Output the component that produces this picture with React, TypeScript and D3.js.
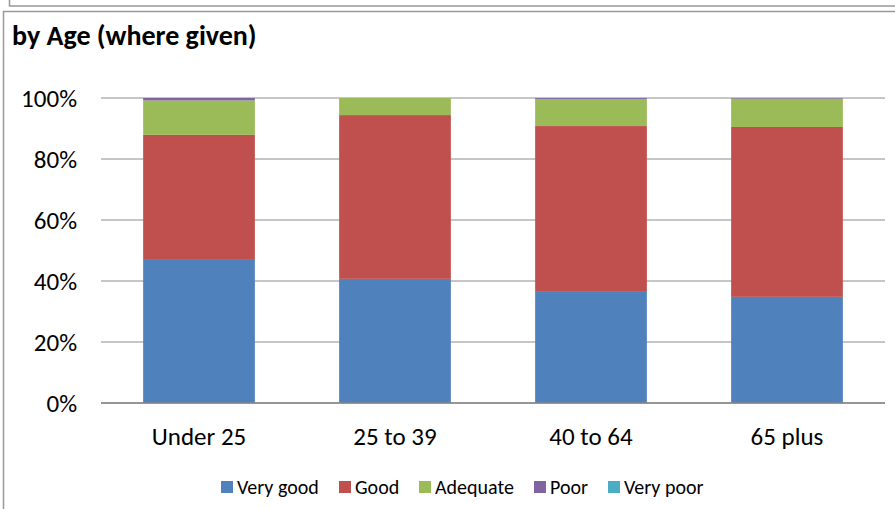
import React from "react";
import * as d3 from "d3";

const categories = ["Under 25", "25 to 39", "40 to 64", "65 plus"];
const seriesNames = ["Very good", "Good", "Adequate", "Poor", "Very poor"];
const veryGood = [47.2, 40.7, 36.7, 34.8];
const good = [40.7, 53.7, 54.1, 55.7];
const adequate = [11.3, 5.6, 8.9, 9.3];
const poor = [0.8, 0.0, 0.3, 0.2];
const veryPoor = [0.0, 0.0, 0.0, 0.0];
const yTicks = [0, 20, 40, 60, 80, 100];
const colors = ["#4f81bd", "#c0504d", "#9bbb59", "#8064a2", "#4bacc6"];

const W = 895;
const H = 509;
const font = "Carlito, Calibri, 'Open Sans', 'Liberation Sans', sans-serif";

export default function App() {
  const seriesVals = [veryGood, good, adequate, poor, veryPoor];
  const rows = categories.map((c, i) => {
    const r: any = { cat: c };
    seriesNames.forEach((s, k) => (r[s] = seriesVals[k][i]));
    return r;
  });
  const stack = d3.stack<any>().keys(seriesNames)(rows);

  const x = d3.scaleBand().domain(categories).range([101, 885]).paddingInner(0.43).paddingOuter(0.215);
  const y = d3.scaleLinear().domain([0, 100]).range([403, 98]);

  const legendX = [221, 339, 419, 534, 608];

  return (
    <svg width={W} height={H} style={{ position: "absolute", left: 0, top: 0, background: "#fff" }} fontFamily={font}>
      <rect x={9.5} y={-10} width={900} height={16} fill="none" stroke="#999" strokeWidth={1.5} />
      <rect x={3.5} y={11.5} width={900} height={510} fill="#fff" stroke="#999" strokeWidth={1.5} />
      <text x={12} y={45} fontSize={28} fontWeight="bold" fill="#000">
        by Age (where given)
      </text>
      {yTicks.map((t) => (
        <g key={t}>
          <line x1={101} x2={885} y1={y(t)} y2={y(t)} stroke="#8c8c8c" strokeWidth={1} />
          <text x={77} y={y(t)} dy="0.35em" textAnchor="end" fontSize={25} fill="#000">
            {t}%
          </text>
        </g>
      ))}
      {stack.map((s, k) => (
        <g key={s.key}>
          {s.map((d, i) =>
            d[1] - d[0] > 0 ? (
              <rect
                key={i}
                x={x(categories[i])!}
                width={x.bandwidth()}
                y={y(d[1])}
                height={y(d[0]) - y(d[1])}
                fill={colors[k]}
              />
            ) : null
          )}
        </g>
      ))}
      <line x1={101} x2={885} y1={y(0)} y2={y(0)} stroke="#868686" strokeWidth={1.5} />
      {categories.map((c) => (
        <text key={c} x={x(c)! + x.bandwidth() / 2} y={445} textAnchor="middle" fontSize={25} fill="#000">
          {c}
        </text>
      ))}
      {seriesNames.map((s, k) => (
        <g key={s}>
          <rect x={legendX[k]} y={481} width={12} height={12} fill={colors[k]} />
          <text x={legendX[k] + 16} y={487} dy="0.35em" fontSize={20} fill="#000">
            {s}
          </text>
        </g>
      ))}
    </svg>
  );
}
